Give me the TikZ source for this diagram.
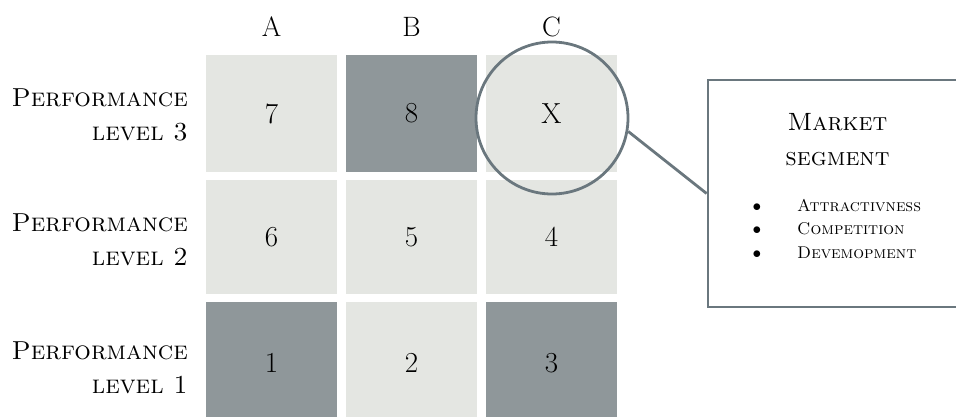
\documentclass[tikz,border=0pt]{standalone}
\usepackage{fontspec}
\definecolor{cellLight}{HTML}{E4E6E2}
\definecolor{cellDark}{HTML}{8F979A}
\definecolor{strokeGray}{HTML}{6A777E}
\tikzset{
  cellbox/.style={rectangle, minimum width=131pt, inner sep=0pt, font=\fontsize{29}{30}\selectfont},
  lightcell/.style={cellbox, fill=cellLight},
  darkcell/.style={cellbox, fill=cellDark},
  rowlabel/.style={anchor=east, align=right, inner sep=0pt, font=\fontsize{26}{34}\selectfont\scshape},
  colhead/.style={inner sep=0pt, font=\fontsize{28}{30}\selectfont},
  lens/.style={circle, draw=strokeGray, line width=2.8pt, minimum size=152pt, inner sep=0pt},
  segbox/.style={rectangle, draw=strokeGray, line width=2.8pt, minimum width=262pt, minimum height=227pt, inner sep=0pt},
  connector/.style={draw=strokeGray, line width=2.8pt},
  titletext/.style={align=center, inner sep=0pt, font=\fontsize{25}{35}\selectfont\scshape},
  itemtext/.style={anchor=base west, inner sep=0pt, font=\fontsize{17}{20}\selectfont\scshape},
  bullettext/.style={anchor=base, inner sep=0pt, font=\fontsize{17}{20}\selectfont}
}
\begin{document}
\begin{tikzpicture}[x=1pt,y=-1pt]
\useasboundingbox (0,0) rectangle (956,416);
\begin{scope}
\clip (0,0) rectangle (956,416);
% headers
\node[colhead] (hA) at (271.5,27) {A};
\node[colhead] (hB) at (411.5,27) {B};
\node[colhead] (hC) at (551.5,27) {C};
% row 3
\node[lightcell, minimum height=117pt] (a3) at (271.5,113.5) {7};
\node[darkcell,  minimum height=117pt] (b3) at (411.5,113.5) {8};
\node[lightcell, minimum height=117pt] (c3) at (551.5,113.5) {X};
% row 2
\node[lightcell, minimum height=114pt] (a2) at (271.5,237) {6};
\node[lightcell, minimum height=114pt] (b2) at (411.5,237) {5};
\node[lightcell, minimum height=114pt] (c2) at (551.5,237) {4};
% row 1
\node[darkcell,  minimum height=122pt] (a1) at (271.5,363) {1};
\node[lightcell, minimum height=122pt] (b1) at (411.5,363) {2};
\node[darkcell,  minimum height=122pt] (c1) at (551.5,363) {3};
% row labels
\node[rowlabel] (l3) at (188,115) {Performance\\level 3};
\node[rowlabel] (l2) at (188,240) {Performance\\level 2};
\node[rowlabel] (l1) at (188,368) {Performance\\level 1};
% lens and box
\node[lens] (lens) at (552,118) {};
\node[segbox] (seg) at (839,193.5) {};
\draw[connector] (lens.-10) -- (seg.west);
\node[titletext] (title) at (837.5,140) {Market\\segment};
\node[bullettext] (b1t) at (757,211) {$\bullet$};
\node[bullettext] (b2t) at (757,234.5) {$\bullet$};
\node[bullettext] (b3t) at (757,258) {$\bullet$};
\node[itemtext] (i1) at (797,211) {Attractivness};
\node[itemtext] (i2) at (797,234.5) {Competition};
\node[itemtext] (i3) at (797,258) {Devemopment};
\end{scope}
\end{tikzpicture}
\end{document}
